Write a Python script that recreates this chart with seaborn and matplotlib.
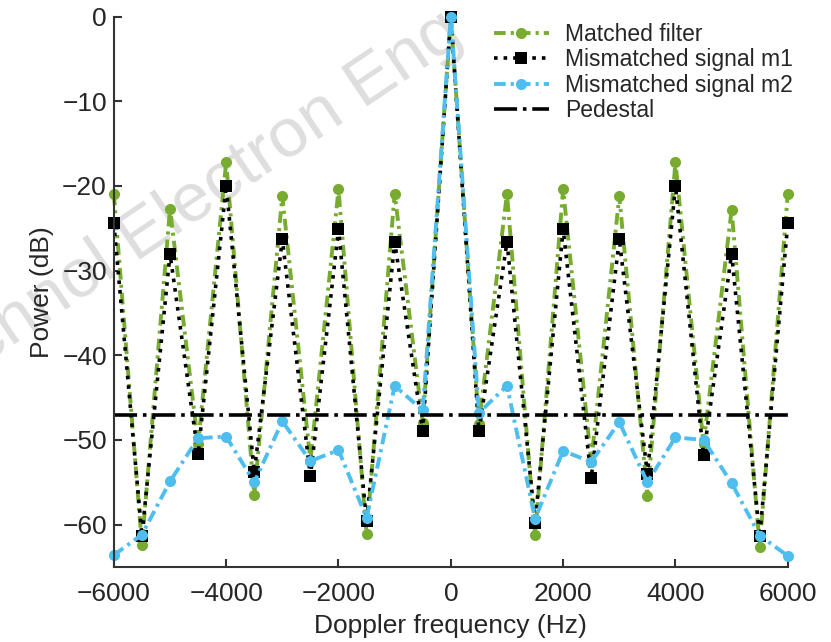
import matplotlib
matplotlib.use("Agg")
import matplotlib.pyplot as plt
import seaborn as sns

# Doppler frequency axis (Hz)
freq = [-6000, -5500, -5000, -4500, -4000, -3500, -3000, -2500, -2000, -1500, -1000, -500, 0,
        500, 1000, 1500, 2000, 2500, 3000, 3500, 4000, 4500, 5000, 5500, 6000]

# power values (dB)
matched = [-20.9, -62.4, -22.7, -50.5, -17.2, -56.5, -21.2, -52.5, -20.4, -61.1, -20.9, -48.0, 0.0,
           -48.1, -20.9, -61.2, -20.4, -52.6, -21.2, -56.6, -17.2, -50.5, -22.8, -62.6, -20.9]
mismatch_m1 = [-24.4, -61.3, -28.0, -51.7, -20.0, -53.8, -26.3, -54.3, -25.1, -59.6, -26.6, -48.9, 0.0,
               -49.0, -26.6, -59.8, -25.1, -54.5, -26.3, -54.0, -20.0, -51.8, -28.0, -61.4, -24.4]
mismatch_m2 = [-63.6, -61.2, -54.9, -49.8, -49.6, -55.0, -47.8, -52.5, -51.2, -59.2, -43.6, -46.5, 0.0,
               -46.8, -43.6, -59.3, -51.3, -52.6, -47.9, -55.0, -49.7, -50.0, -55.1, -61.3, -63.7]
pedestal_x = [-6000, 6000]
pedestal_y = [-47.0, -47.0]

x_ticks = [-6000, -4000, -2000, 0, 2000, 4000, 6000]
y_ticks = [0, -10, -20, -30, -40, -50, -60]

sns.set_style("ticks")
plt.rcParams['font.family'] = ['Liberation Sans', 'DejaVu Sans']
plt.rcParams['axes.unicode_minus'] = True

fig = plt.figure(figsize=(8.31, 6.42), dpi=100)
ax = fig.add_axes([0.137, 0.117, 0.811, 0.857])

green = "#77AC30"
blue = "#4DBEEE"
dashdot = (3, 1.3, 0.8, 1.3)

# watermark sits behind everything else
fig.text(0.22, 0.675, "Technol Electron Eng", fontsize=50, color="#dedede",
         rotation=34, ha="center", va="center", zorder=-1)
ax.patch.set_alpha(0)

sns.lineplot(x=freq, y=matched, ax=ax, color=green, linestyle=(0, dashdot), linewidth=2.8,
             marker="o", markersize=8, markeredgewidth=0, label="Matched filter", clip_on=False)
sns.lineplot(x=freq, y=mismatch_m1, ax=ax, color="black", linestyle=":", linewidth=2.6,
             marker="s", markersize=8, markeredgewidth=0, label="Mismatched signal m1", clip_on=False)
sns.lineplot(x=freq, y=mismatch_m2, ax=ax, color=blue, linestyle=(0, dashdot), linewidth=2.8,
             marker="o", markersize=8, markeredgewidth=0, label="Mismatched signal m2", clip_on=False)
sns.lineplot(x=pedestal_x, y=pedestal_y, ax=ax, color="black", linestyle="-.", linewidth=2.6,
             label="Pedestal")

ax.set_xlim(-6000, 6000)
ax.set_ylim(-65, 0)
ax.set_xticks(x_ticks)
ax.set_yticks(y_ticks)
ax.tick_params(direction="in", length=6, width=1.5, color="#333333", labelsize=19)
ax.tick_params(axis="x", pad=11)
ax.tick_params(axis="y", pad=5)
for side in ["left", "bottom"]:
    ax.spines[side].set_linewidth(1.5)
    ax.spines[side].set_color("#333333")
sns.despine(ax=ax)

ax.set_xlabel("Doppler frequency (Hz)", fontsize=19, labelpad=6)
ax.set_ylabel("Power (dB)", fontsize=19, labelpad=6)

leg = ax.legend(loc="upper left", bbox_to_anchor=(0.55, 1.005), frameon=False, fontsize=16.5,
                handlelength=2.4, handletextpad=0.7, labelspacing=0.1, borderaxespad=0)

fig.savefig("out.png", dpi=100)
